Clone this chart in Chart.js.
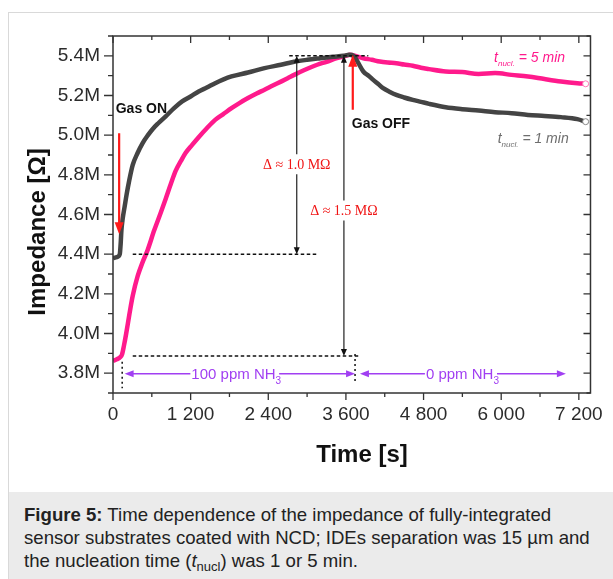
<!DOCTYPE html>
<html>
<head>
<meta charset="utf-8">
<script src="https://cdn.jsdelivr.net/npm/chart.js@4.4.1/dist/chart.umd.min.js"></script>
<style>
html, body { margin: 0; padding: 0; background: #fff; }
body { width: 613px; height: 579px; overflow: hidden; position: relative; font-family: Arial, "Liberation Sans", sans-serif; }
#frame { position: absolute; left: 8px; top: 12px; width: 640px; height: 600px; border: 1px solid #d9d9d9; box-sizing: border-box; }
#chart { position: absolute; left: 0; top: 0; }
#caption { position: absolute; left: 9px; top: 492px; width: 604px; height: 87px; background: #ebebeb;
  box-sizing: border-box; padding: 11px 0 0 15px; font-size: 18.6px; line-height: 23.2px; color: #222; white-space: nowrap; }
#caption sub { font-size: 13px; line-height: 0; vertical-align: -4px; }
</style>
</head>
<body>
<div id="frame"></div>
<canvas id="chart" width="613" height="492"></canvas>
<div id="caption">
  <b>Figure 5:</b> Time dependence of the impedance of fully-integrated<br>
  sensor substrates coated with NCD; IDEs separation was 15 µm and<br>
  the nucleation time (<i>t</i><sub>nucl</sub>) was 1 or 5 min.
</div>
<script>
// impedance (MΩ) vs time (s), t_nucl = 1 min
const grayTime = [0, 60, 105, 118, 130, 150, 180, 210, 250, 305, 380, 458, 540, 611, 700, 815, 940, 1069, 1200, 1324,
  1450, 1579, 1700, 1832, 2087, 2342, 2596, 2800, 3000, 3206, 3400, 3563, 3650, 3720, 3793, 3869, 3950, 4022, 4100,
  4175, 4280, 4379, 4500, 4633, 4760, 4886, 5142, 5397, 5650, 5905, 6160, 6414, 6669, 6924, 7177, 7305];
const grayImp = [4.380, 4.385, 4.400, 4.450, 4.520, 4.580, 4.640, 4.700, 4.770, 4.850, 4.910, 4.960, 5.000, 5.030,
  5.060, 5.095, 5.135, 5.170, 5.195, 5.220, 5.240, 5.262, 5.280, 5.296, 5.316, 5.338, 5.355, 5.370, 5.380, 5.388,
  5.395, 5.400, 5.405, 5.400, 5.363, 5.321, 5.300, 5.279, 5.258, 5.237, 5.218, 5.203, 5.190, 5.178, 5.168, 5.158,
  5.141, 5.131, 5.124, 5.116, 5.111, 5.102, 5.097, 5.091, 5.081, 5.068];

// impedance (MΩ) vs time (s), t_nucl = 5 min
const pinkTime = [0, 60, 110, 140, 170, 204, 255, 305, 382, 458, 534, 637, 739, 815, 900, 968, 1050, 1121, 1220, 1324,
  1450, 1579, 1700, 1832, 1960, 2087, 2220, 2342, 2470, 2596, 2700, 2800, 2950, 3156, 3300, 3461, 3580, 3665, 3760,
  3869, 4000, 4123, 4250, 4379, 4500, 4633, 4760, 4886, 5142, 5397, 5650, 5905, 6160, 6414, 6669, 6924, 7177, 7305];
const pinkImp = [3.862, 3.870, 3.880, 3.895, 3.940, 4.000, 4.100, 4.190, 4.290, 4.360, 4.420, 4.520, 4.610, 4.680,
  4.760, 4.820, 4.870, 4.910, 4.950, 4.990, 5.035, 5.077, 5.105, 5.136, 5.163, 5.187, 5.210, 5.229, 5.250, 5.270,
  5.287, 5.304, 5.327, 5.355, 5.370, 5.388, 5.398, 5.405, 5.398, 5.388, 5.380, 5.371, 5.366, 5.363, 5.356, 5.350,
  5.340, 5.333, 5.321, 5.318, 5.309, 5.313, 5.304, 5.296, 5.283, 5.271, 5.262, 5.259];

// axis ticks
const xTicks = [0, 1200, 2400, 3600, 4800, 6000, 7200];
const yTicks = [3.8, 4.0, 4.2, 4.4, 4.6, 4.8, 5.0, 5.2, 5.4];

// marker levels used by the annotations
const levelTop = 5.40, levelOn1 = 4.40, levelOn5 = 3.887;
const gasOnT = 142, gasOffT = 3741;

const GRAY = '#444444';
const PINK = '#ff1a8c';
const RED = '#ff1a1a';
const PURPLE = '#a13ff2';
const AXIS = '#333333';

function toPoints(ts, vs) {
  return ts.map((t, i) => ({ x: t, y: vs[i] }));
}

function fmtTime(v) {
  if (v < 1000) return String(v);
  return Math.floor(v / 1000) + ' ' + String(v % 1000).padStart(3, '0');
}

function endMarker(n) {
  return Array.from({ length: n }, (_, i) => (i === n - 1 ? 3 : 0));
}

// plot frame with minor/major ticks on all four sides
const framePlugin = {
  id: 'frame',
  afterDatasetsDraw(chart) {
    const { ctx, chartArea: a, scales: { x, y } } = chart;
    ctx.save();
    ctx.strokeStyle = AXIS;
    ctx.lineWidth = 1.5;
    ctx.strokeRect(a.left, a.top, a.right - a.left, a.bottom - a.top);
    ctx.lineWidth = 1.3;
    ctx.beginPath();
    for (let t = 0; t <= 7200; t += 600) {
      const px = x.getPixelForValue(t);
      const major = t % 1200 === 0;
      ctx.moveTo(px, a.bottom); ctx.lineTo(px, a.bottom + (major ? 7 : 4));
      ctx.moveTo(px, a.top); ctx.lineTo(px, a.top + (major ? 7 : 4));
    }
    for (let k = 37; k <= 55; k++) {
      const py = y.getPixelForValue(k / 10);
      const major = k % 2 === 0;
      ctx.moveTo(a.left, py); ctx.lineTo(a.left - (major ? 9 : 5), py);
      ctx.moveTo(a.right, py); ctx.lineTo(a.right - (major ? 7 : 4), py);
    }
    ctx.stroke();
    ctx.restore();
  }
};

function arrowHead(ctx, x, y, dx, dy, len, half, color) {
  // tip at (x, y), pointing along (dx, dy)
  ctx.fillStyle = color;
  ctx.beginPath();
  ctx.moveTo(x, y);
  ctx.lineTo(x - dx * len - dy * half, y - dy * len + dx * half);
  ctx.lineTo(x - dx * len + dy * half, y - dy * len - dx * half);
  ctx.closePath();
  ctx.fill();
}

function textWithSub(ctx, x, y, parts) {
  // parts: [text, font, dy]
  let cx = x;
  parts.forEach(([s, font, dy]) => {
    ctx.font = font;
    ctx.fillText(s, cx, y + dy);
    cx += ctx.measureText(s).width;
  });
  return cx;
}

const notesPlugin = {
  id: 'notes',
  afterDatasetsDraw(chart) {
    const { ctx, scales: { x, y } } = chart;
    const X = v => x.getPixelForValue(v);
    const Y = v => y.getPixelForValue(v);
    ctx.save();

    // dashed reference levels
    ctx.strokeStyle = '#111';
    ctx.lineWidth = 1.5;
    ctx.setLineDash([3.5, 2.5]);
    ctx.beginPath();
    ctx.moveTo(X(2724), Y(levelTop)); ctx.lineTo(X(3946), Y(levelTop));
    ctx.moveTo(X(305), Y(levelOn1)); ctx.lineTo(X(3165), Y(levelOn1));
    ctx.moveTo(X(305), Y(levelOn5)); ctx.lineTo(X(3822), Y(levelOn5));
    ctx.stroke();

    // dotted markers where the gas is switched
    ctx.setLineDash([2, 3]);
    ctx.beginPath();
    ctx.moveTo(X(gasOnT), Y(3.858)); ctx.lineTo(X(gasOnT), Y(3.724));
    ctx.moveTo(X(gasOffT), Y(3.897)); ctx.lineTo(X(gasOffT), Y(3.749));
    ctx.stroke();
    ctx.setLineDash([]);

    // delta arrows
    const deltas = [
      { t: 2840, lo: levelOn1, mid: 4.848, label: 'Δ ≈ 1.0 MΩ' },
      { t: 3569, lo: levelOn5, mid: 4.615, label: 'Δ ≈ 1.5 MΩ' }
    ];
    ctx.lineWidth = 1.2;
    ctx.strokeStyle = '#222';
    deltas.forEach(d => {
      const px = X(d.t);
      const top = Y(levelTop), bot = Y(d.lo), m = Y(d.mid);
      ctx.beginPath();
      ctx.moveTo(px, top + 4); ctx.lineTo(px, m - 11);
      ctx.moveTo(px, m + 9); ctx.lineTo(px, bot - 4);
      ctx.stroke();
      arrowHead(ctx, px, top, 0, -1, 7, 3, '#111');
      arrowHead(ctx, px, bot, 0, 1, 7, 3, '#111');
      ctx.fillStyle = '#f01414';
      ctx.font = '14px "Liberation Serif", "Times New Roman", serif';
      ctx.textAlign = 'center';
      ctx.textBaseline = 'middle';
      ctx.fillText(d.label, px, m);
    });

    // gas on / off arrows
    ctx.strokeStyle = RED;
    ctx.lineWidth = 2.2;
    ctx.beginPath();
    ctx.moveTo(X(95), Y(5.01)); ctx.lineTo(X(95), Y(4.50) - 10);
    ctx.moveTo(X(3706), Y(5.128)); ctx.lineTo(X(3706), Y(5.405) + 11);
    ctx.stroke();
    arrowHead(ctx, X(95), Y(4.50), 0, 1, 12, 4.5, RED);
    arrowHead(ctx, X(3706), Y(5.405), 0, -1, 12, 4.5, RED);

    ctx.textAlign = 'left';
    ctx.textBaseline = 'alphabetic';
    ctx.fillStyle = '#111';
    ctx.font = 'bold 14px Arial, "Liberation Sans", sans-serif';
    ctx.fillText('Gas ON', X(42), Y(5.113));
    ctx.fillText('Gas OFF', X(3690), Y(5.037));

    // series labels
    const it = 'italic 14px Arial, "Liberation Sans", sans-serif';
    const sub = 'italic 8px Arial, "Liberation Sans", sans-serif';
    ctx.fillStyle = PINK;
    textWithSub(ctx, X(5890), Y(5.37), [['t', it, 0], ['nucl.', sub, 4], [' = 5 min', it, 0]]);
    ctx.fillStyle = '#6e6e6e';
    textWithSub(ctx, X(5946), Y(4.961), [['t', it, 0], ['nucl.', sub, 4], [' = 1 min', it, 0]]);

    // exposure phases
    const yy = Y(3.797);
    const phase = (t0, t1, tc, main) => {
      ctx.font = '15px Arial, "Liberation Sans", sans-serif';
      const w1 = ctx.measureText(main).width;
      ctx.font = '10px Arial, "Liberation Sans", sans-serif';
      const w2 = ctx.measureText('3').width;
      const cx = X(tc), x0 = cx - (w1 + w2) / 2, x1 = cx + (w1 + w2) / 2;
      ctx.strokeStyle = PURPLE;
      ctx.lineWidth = 1.6;
      ctx.beginPath();
      ctx.moveTo(X(t0) + 6, yy); ctx.lineTo(x0 - 1, yy);
      ctx.moveTo(x1 - 2, yy); ctx.lineTo(X(t1) - 6, yy);
      ctx.stroke();
      arrowHead(ctx, X(t0), yy, -1, 0, 9, 3.5, PURPLE);
      arrowHead(ctx, X(t1), yy, 1, 0, 9, 3.5, PURPLE);
      ctx.fillStyle = PURPLE;
      ctx.textAlign = 'left';
      textWithSub(ctx, x0, yy + 5.5, [[main, '15px Arial, "Liberation Sans", sans-serif', 0],
        ['3', '10px Arial, "Liberation Sans", sans-serif', 5]]);
    };
    phase(180, gasOffT, 1905, '100 ppm NH');
    phase(3817, 7000, 5401, '0 ppm NH');

    // axis titles
    ctx.fillStyle = '#111';
    ctx.font = 'bold 24px Arial, "Liberation Sans", sans-serif';
    ctx.textAlign = 'center';
    ctx.textBaseline = 'alphabetic';
    ctx.fillText('Time [s]', 362, 462);
    ctx.translate(45, 232);
    ctx.rotate(-Math.PI / 2);
    ctx.fillText('Impedance [Ω]', 0, 0);
    ctx.restore();
  }
};

const tickFont = { family: 'Arial, "Liberation Sans", sans-serif', size: 19 };

new Chart(document.getElementById('chart').getContext('2d'), {
  type: 'line',
  data: {
    datasets: [
      {
        label: 't_nucl = 1 min',
        data: toPoints(grayTime, grayImp),
        borderColor: GRAY,
        borderWidth: 4.5,
        pointRadius: endMarker(grayTime.length),
        pointBackgroundColor: '#fff',
        pointBorderColor: '#888',
        pointBorderWidth: 1,
        cubicInterpolationMode: 'monotone'
      },
      {
        label: 't_nucl = 5 min',
        data: toPoints(pinkTime, pinkImp),
        borderColor: PINK,
        borderWidth: 4.5,
        pointRadius: endMarker(pinkTime.length),
        pointBackgroundColor: '#fff',
        pointBorderColor: '#ff7ab8',
        pointBorderWidth: 1,
        cubicInterpolationMode: 'monotone'
      }
    ]
  },
  options: {
    responsive: false,
    animation: false,
    layout: { padding: { left: 0, top: 36, right: 16, bottom: 59 } },
    plugins: { legend: { display: false }, tooltip: { enabled: false } },
    scales: {
      x: {
        type: 'linear',
        min: 0,
        max: 7380,
        afterFit: s => { s.height = 40; },
        afterBuildTicks: s => { s.ticks = xTicks.map(v => ({ value: v })); },
        ticks: {
          autoSkip: false,
          maxRotation: 0,
          padding: 10,
          color: '#2b2b2b',
          font: tickFont,
          callback: v => fmtTime(v)
        },
        grid: { display: false, drawTicks: false },
        border: { display: false }
      },
      y: {
        type: 'linear',
        min: 3.7,
        max: 5.5,
        afterFit: s => { s.width = 113; },
        afterBuildTicks: s => { s.ticks = yTicks.map(v => ({ value: v })); },
        ticks: {
          autoSkip: false,
          padding: 13,
          color: '#2b2b2b',
          font: tickFont,
          callback: v => v.toFixed(1) + 'M'
        },
        grid: { display: false, drawTicks: false },
        border: { display: false }
      }
    }
  },
  plugins: [framePlugin, notesPlugin]
});
</script>
</body>
</html>
